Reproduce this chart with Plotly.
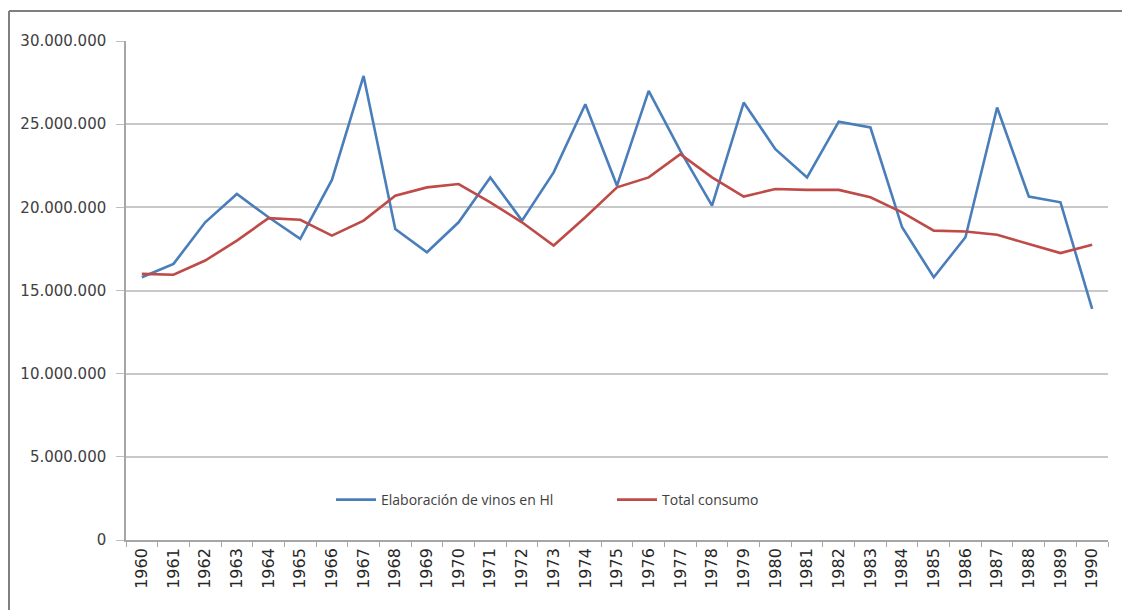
import plotly.graph_objects as go

years = [str(y) for y in range(1960, 1991)]
elaboracion = [15.8, 16.6, 19.1, 20.8, 19.4, 18.1, 21.65, 27.9, 18.7, 17.3,
               19.1, 21.8, 19.2, 22.1, 26.2, 21.3, 27.0, 23.4, 20.1, 26.3,
               23.5, 21.8, 25.15, 24.8, 18.8, 15.8, 18.2, 26.0, 20.65, 20.3, 13.9]
consumo = [16.0, 15.95, 16.8, 18.0, 19.35, 19.25, 18.3, 19.2, 20.7, 21.2,
           21.4, 20.3, 19.1, 17.7, 19.4, 21.2, 21.8, 23.2, 21.8, 20.65,
           21.1, 21.05, 21.05, 20.6, 19.7, 18.6, 18.55, 18.35, 17.8, 17.25, 17.75]
elaboracion = [v * 1e6 for v in elaboracion]
consumo = [v * 1e6 for v in consumo]
series_names = ["Elaboración de vinos en Hl", "Total consumo"]
y_ticks = [0, 5e6, 10e6, 15e6, 20e6, 25e6, 30e6]

# page has an 8px body margin; figure sized to fit
OFF = 8
W, H = 1122, 602
L, R, T, B = 118, 22, 33, 70
pw, ph = W - L - R, H - T - B

def px(x_page):
    return (x_page - OFF - L) / pw

def py(y_page):
    return (H - B - (y_page - OFF)) / ph

fig = go.Figure()
fig.add_trace(go.Scatter(x=years, y=elaboracion, name=series_names[0], mode="lines",
                         line=dict(color="#4A7EBB", width=2.6)))
fig.add_trace(go.Scatter(x=years, y=consumo, name=series_names[1], mode="lines",
                         line=dict(color="#BE4B48", width=2.6)))

fig.update_layout(
    width=W, height=H,
    margin=dict(l=L, r=R, t=T, b=B, pad=0),
    paper_bgcolor="white", plot_bgcolor="white",
    separators=",.",
    font=dict(family="DejaVu Sans, sans-serif", color="#404040", size=13),
    showlegend=True,
    legend=dict(orientation="h", x=px(331), y=py(500), xanchor="left", yanchor="middle",
                bgcolor="rgba(0,0,0,0)",
                font=dict(family="Open Sans, sans-serif", size=14, color="#404040"),
                itemwidth=40, entrywidth=226, entrywidthmode="pixels"),
    shapes=[
        dict(type="line", xref="paper", yref="paper", x0=px(9), x1=px(9), y0=py(11), y1=py(640),
             line=dict(color="#7f7f7f", width=2)),
        dict(type="line", xref="paper", yref="paper", x0=px(9), x1=px(1160), y0=py(11), y1=py(11),
             line=dict(color="#7f7f7f", width=2)),
    ],
)
fig.update_xaxes(
    type="category", tickson="boundaries", ticks="outside", ticklen=5, tickcolor="#a6a6a6",
    showline=True, linecolor="#a6a6a6", linewidth=1.5, showgrid=False,
    tickangle=-90, tickfont=dict(size=16, color="#262626"),
    range=[-0.5, 30.5],
)
fig.update_yaxes(
    range=[0, 30e6], tickvals=y_ticks, tickformat=",.0f",
    ticks="outside", ticklen=8, tickcolor="#bfbfbf",
    showline=True, linecolor="#a6a6a6", linewidth=1.5,
    showgrid=True, gridcolor="#c8c8c8", gridwidth=1.5, zeroline=False,
    tickfont=dict(size=15, color="#404040"), ticklabelstandoff=7,
)

fig.write_html("out.html")
